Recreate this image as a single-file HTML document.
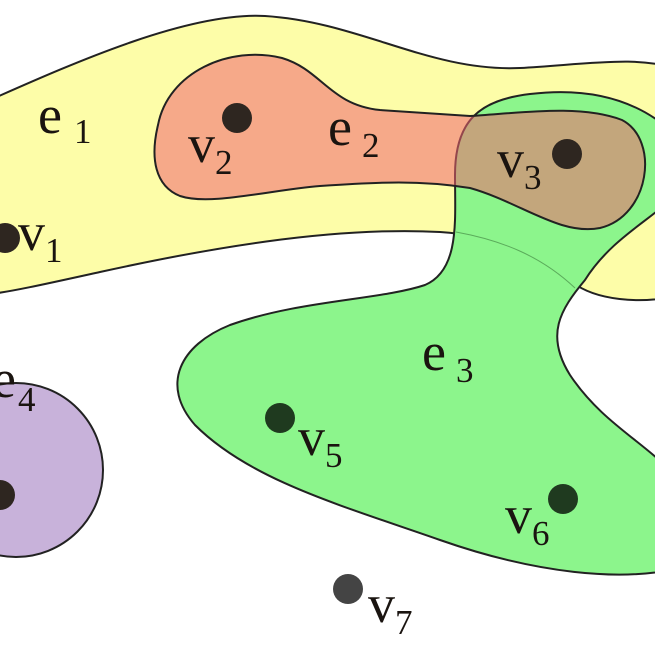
<!DOCTYPE html>
<html><head><meta charset="utf-8"><style>
html,body{margin:0;padding:0;background:#fff;}
svg{display:block;}
text{font-family:"Liberation Serif",serif;fill:#1a1410;}
</style></head><body>
<svg width="655" height="655" viewBox="0 0 655 655">
<path fill="#fdfda8" stroke="#222" stroke-width="2"
 d="M -10,100 C 80,60 190,12 265,16 C 360,22 430,72 520,68 C 590,64 640,55 680,70 L 680,295 C 640,305 595,300 572,282 C 540,255 500,236 440,232 C 330,226 200,250 100,272 C 50,283 10,292 -10,294 Z"/>
<path fill="#8cf58c" stroke="#222" stroke-width="2"
 d="M 455,175 C 455,120 480,100 530,94 C 580,88 630,95 670,130 L 670,200 C 650,220 610,240 585,280 C 560,310 545,335 570,375 C 600,420 640,440 670,470 L 670,570 C 620,580 540,575 440,540 C 340,505 250,480 195,425 C 160,385 180,345 230,325 C 300,300 380,300 425,285 C 460,270 455,220 455,175 Z"/>
<path fill="none" stroke="#3a7a3a" stroke-width="1" opacity="0.6"
 d="M 456,232 C 500,240 540,255 575,288"/>
<path fill="rgba(240,100,112,0.55)" stroke="#222" stroke-width="2"
 d="M 158,125 C 168,72 230,45 282,58 C 322,70 330,105 380,110 L 470,116 C 520,113 580,104 622,120 C 660,140 650,216 600,228 C 560,236 520,202 470,188 C 420,180 380,182 320,186 C 270,190 210,206 180,196 C 155,186 150,158 158,125 Z"/>
<circle cx="16" cy="470" r="87" fill="#c8b2da" stroke="#222" stroke-width="2"/>
<g fill="#2e2620">
<circle cx="5" cy="238" r="15"/>
<circle cx="237" cy="118" r="15"/>
<circle cx="567" cy="154" r="15"/>
<circle cx="0" cy="495" r="15"/>
<circle cx="280" cy="418" r="15" fill="#1f3a1f"/>
<circle cx="563" cy="499" r="15" fill="#1f3a1f"/>
<circle cx="348" cy="589" r="15" fill="#444"/>
</g>
<g font-size="54">
<text x="38" y="133">e<tspan font-size="35" dx="12" dy="10">1</tspan></text>
<text x="328" y="145">e<tspan font-size="35" dx="10" dy="12">2</tspan></text>
<text x="422" y="370">e<tspan font-size="35" dx="10" dy="12">3</tspan></text>
<text x="-8" y="397">e<tspan font-size="35" dx="2" dy="14">4</tspan></text>
<text x="18" y="250">v<tspan font-size="35" dy="12">1</tspan></text>
<text x="188" y="162">v<tspan font-size="35" dy="12">2</tspan></text>
<text x="497" y="177">v<tspan font-size="35" dy="12">3</tspan></text>
<text x="298" y="455">v<tspan font-size="35" dy="12">5</tspan></text>
<text x="505" y="533">v<tspan font-size="35" dy="12">6</tspan></text>
<text x="368" y="622">v<tspan font-size="35" dy="12">7</tspan></text>
</g>
</svg>
</body></html>
